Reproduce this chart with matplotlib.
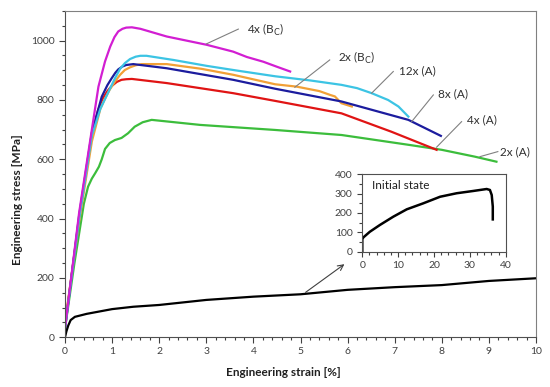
"""Engineering stress-strain curves of the ECAP-processed samples."""

import matplotlib

matplotlib.use("Agg")
import matplotlib.pyplot as plt
from matplotlib.ticker import MultipleLocator

plt.rcParams["font.family"] = ["Lato", "DejaVu Sans"]

W, H = 550, 387

# ---- data (strain %, stress MPa) ----
x_4bc = [0, 0.3, 0.57, 0.71, 0.85, 0.96, 1.05, 1.13, 1.22, 1.3, 1.42, 1.6, 2.16, 3.01, 3.57, 3.86, 4.21, 4.5, 4.78]
s_4bc = [30, 420, 700, 845, 930, 980, 1012, 1031, 1040, 1044, 1045, 1040, 1014, 986, 963, 945, 929, 912, 896]

x_12a = [0, 0.3, 0.57, 0.75, 0.9, 1.06, 1.17, 1.27, 1.38, 1.5, 1.6, 1.73, 2.3, 3.01, 3.7, 4.46, 5.2, 5.87, 6.2, 6.51, 6.86, 7.08, 7.29]
s_12a = [30, 400, 680, 770, 820, 873, 905, 924, 938, 946, 949, 949, 935, 915, 898, 880, 866, 851, 840, 823, 800, 778, 744]

x_8a = [0, 0.3, 0.57, 0.78, 0.9, 0.99, 1.07, 1.13, 1.22, 1.3, 1.45, 2.16, 3.57, 4.46, 5.87, 7.29, 7.98]
s_8a = [30, 410, 690, 811, 850, 873, 892, 903, 913, 918, 921, 907, 868, 838, 795, 733, 679]

x_2bc = [0, 0.3, 0.57, 0.75, 0.85, 0.95, 1.06, 1.17, 1.27, 1.38, 1.5, 1.63, 2.16, 2.9, 3.57, 4.46, 4.92, 5.4, 5.63, 5.73, 5.87, 6.09]
s_2bc = [50, 390, 660, 770, 805, 835, 862, 885, 901, 910, 917, 921, 921, 905, 885, 853, 845, 830, 817, 812, 789, 778]

x_4a = [0, 0.3, 0.57, 0.7, 0.8, 0.9, 0.99, 1.1, 1.2, 1.3, 1.42, 2.16, 3.57, 4.46, 5.87, 6.93, 7.89]
s_4a = [40, 400, 680, 765, 805, 830, 847, 861, 868, 870, 871, 857, 823, 797, 755, 693, 632]

x_2a = [0, 0.2, 0.4, 0.49, 0.57, 0.64, 0.72, 0.78, 0.85, 0.95, 1.06, 1.2, 1.34, 1.48, 1.65, 1.84, 2.87, 4.46, 5.87, 7.29, 8.0, 8.7, 9.16]
s_2a = [30, 250, 450, 508, 535, 553, 575, 600, 635, 655, 665, 672, 688, 710, 725, 733, 716, 699, 682, 649, 632, 609, 592]

x_init = [0, 0.03, 0.07, 0.12, 0.21, 0.46, 1.0, 1.45, 2.0, 3.0, 4.0, 5.0, 6.0, 7.0, 8.0, 9.0, 10.0]
s_init = [0, 20, 40, 58, 69, 79, 95, 103, 109, 126, 137, 145, 160, 169, 176, 190, 199]

# full initial-state curve for the inset
x_full = [0, 0, 0.3, 2.1, 4.9, 8.65, 12.4, 17, 21.7, 26.3, 31, 34.7, 35.6, 36.1, 36.4, 36.4]
s_full = [0, 65, 74, 103, 138, 181, 219, 250, 284, 302, 314, 324, 319, 293, 233, 167]

# label text position, leader line start and end (data coords)
labels = ["4x (B$_\\mathrm{C}$)", "2x (B$_\\mathrm{C}$)", "12x (A)", "8x (A)", "4x (A)", "2x (A)"]
label_xy = [(3.86, 1036), (5.79, 941), (7.1, 899), (7.91, 820), (8.53, 733), (9.24, 626)]
leader_from = [(3.68, 1039), (5.62, 935), (6.97, 896), (7.82, 817), (8.42, 727), (9.19, 626)]
leader_to = [(3.0, 989), (4.88, 843), (6.51, 823), (7.36, 727), (7.89, 641), (8.81, 609)]

# ---- styling ----
c_4bc = "#d21ed2"
c_12a = "#3cc4e4"
c_8a = "#1c1c9e"
c_2bc = "#f2a036"
c_4a = "#e01414"
c_2a = "#3cbd3c"
tick_col = "#404040"

fig = plt.figure(figsize=(W / 100, H / 100), dpi=100)
ax = fig.add_axes([65 / W, 1 - 337.3 / H, (536 - 65) / W, (337.3 - 11) / H])

lw = 1.6
ax.plot(x_2a, s_2a, color=c_2a, lw=lw)
ax.plot(x_4a, s_4a, color=c_4a, lw=lw)
ax.plot(x_2bc, s_2bc, color=c_2bc, lw=lw)
ax.plot(x_8a, s_8a, color=c_8a, lw=lw)
ax.plot(x_12a, s_12a, color=c_12a, lw=lw)
ax.plot(x_4bc, s_4bc, color=c_4bc, lw=lw)
ax.plot(x_init, s_init, color="black", lw=lw)

ax.set_xlim(0, 10)
ax.set_ylim(0, 1100)
ax.xaxis.set_major_locator(MultipleLocator(1))
ax.xaxis.set_minor_locator(MultipleLocator(0.2))
ax.yaxis.set_major_locator(MultipleLocator(200))
ax.yaxis.set_minor_locator(MultipleLocator(50))
ax.tick_params(which="both", direction="out", colors=tick_col, labelsize=7.5, width=0.8)
ax.tick_params(which="major", length=4)
ax.tick_params(which="minor", length=2.5)
ax.tick_params(axis="x", pad=3)
for side in ["left", "bottom"]:
    ax.spines[side].set_color("#505050")
for side in ["top", "right"]:
    ax.spines[side].set_color("#808080")

for text, xy, p0, p1 in zip(labels, label_xy, leader_from, leader_to):
    ax.plot([p0[0], p1[0]], [p0[1], p1[1]], color="#808080", lw=0.8)
    ax.text(xy[0], xy[1], text, fontsize=8.5, color="#303030", ha="left", va="center")

# arrow to the inset
ax.annotate("", xy=(5.98, 252), xytext=(5.06, 146),
            arrowprops=dict(arrowstyle="->", color="#404040", lw=0.8))

fig.text(283 / W, 1 - 373 / H, "Engineering strain [%]", ha="center", va="center",
         fontsize=8.5, fontweight="bold", color="#202020")
fig.text(18 / W, 1 - 200 / H, "Engineering stress [MPa]", ha="center", va="center",
         rotation=90, fontsize=8.5, fontweight="bold", color="#202020")

# ---- inset ----
ins = fig.add_axes([362.3 / W, 1 - 251.7 / H, (505.7 - 362.3) / W, (251.7 - 174.3) / H])
ins.plot(x_full, s_full, color="black", lw=1.8)
ins.set_xlim(0, 40)
ins.set_ylim(0, 400)
ins.xaxis.set_major_locator(MultipleLocator(10))
ins.xaxis.set_minor_locator(MultipleLocator(2))
ins.yaxis.set_major_locator(MultipleLocator(100))
ins.yaxis.set_minor_locator(MultipleLocator(50))
ins.tick_params(which="both", direction="out", colors=tick_col, labelsize=7.5, width=0.8)
ins.tick_params(which="major", length=3.5)
ins.tick_params(which="minor", length=2)
for side in ins.spines:
    ins.spines[side].set_color("#505050")
ins.text(2.7, 343, "Initial state", fontsize=8.5, color="#202020", ha="left", va="center")

fig.savefig("out.png", dpi=100)
